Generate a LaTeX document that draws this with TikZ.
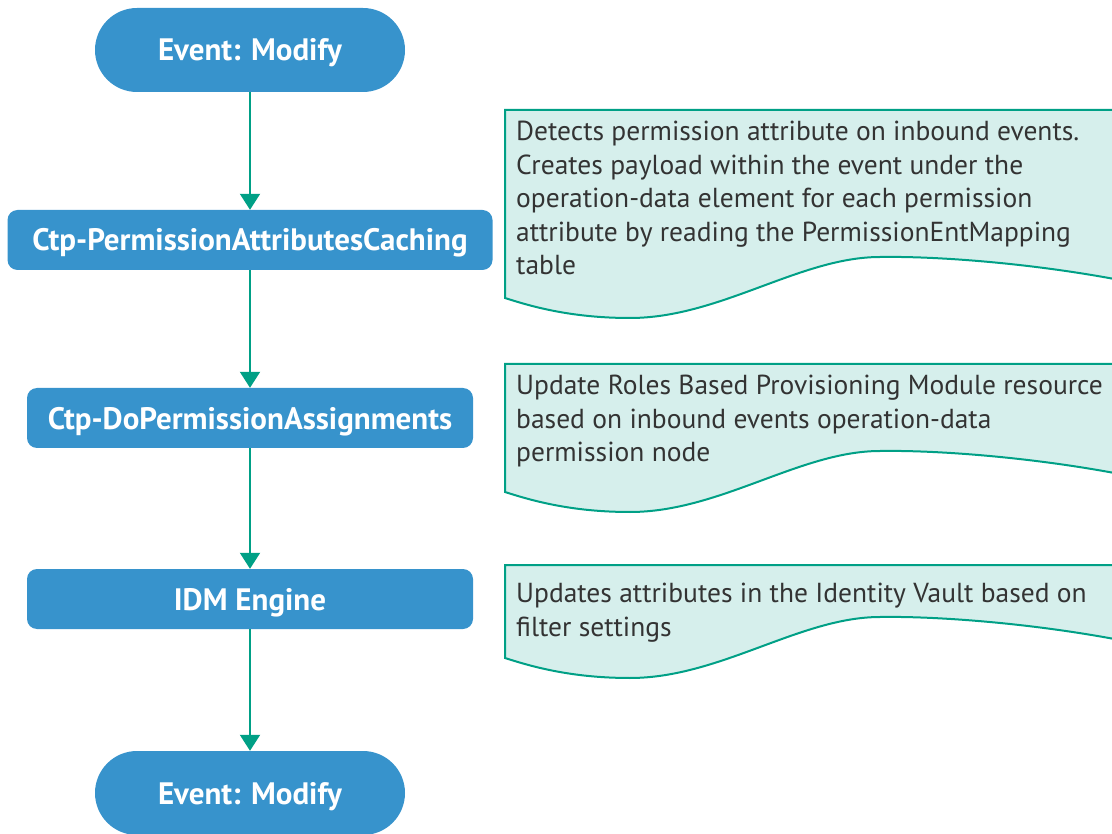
\documentclass[tikz,border=0pt]{standalone}
\usepackage{fontspec}
\setmainfont{PT Sans}
\usepackage{tikz}
\usetikzlibrary{arrows.meta,positioning}
\definecolor{stepblue}{RGB}{55,147,204}
\definecolor{flowgreen}{RGB}{0,160,134}
\definecolor{notemint}{RGB}{214,239,236}
\definecolor{notegray}{RGB}{51,51,51}

\begin{document}
\begin{tikzpicture}[x=1pt, y=-1pt,
    terminal/.style={rectangle, rounded corners=42pt, fill=stepblue, text=white,
      minimum width=310pt, minimum height=84pt, text height=22pt, text depth=0pt,
      font=\bfseries\fontsize{31}{36}\selectfont},
    process/.style={rectangle, rounded corners=10pt, fill=stepblue, text=white,
      minimum height=60pt, text height=22pt, text depth=0pt,
      font=\bfseries\fontsize{31}{36}\selectfont},
    flow/.style={flowgreen, line width=2pt, -{Triangle[width=20pt, length=16pt]}},
    notebox/.style={draw=flowgreen, fill=notemint, line width=2pt},
    notetext/.style={anchor=north west, inner sep=0pt, text=notegray, align=left,
      font=\fontsize{27.5}{33.5}\selectfont}]
    \useasboundingbox (0,0) rectangle (1112,834);

    % steps
    \node[terminal] (start) at (250,50) {Event: Modify};
    \node[process, minimum width=485pt] (cache) at (250,240) {Ctp-PermissionAttributesCaching};
    \node[process, minimum width=446pt] (assign) at (250,418) {Ctp-DoPermissionAssignments};
    \node[process, minimum width=446pt] (engine) at (250,599) {IDM Engine};
    \node[terminal] (stop) at (250,793) {Event: Modify};

    \draw[flow] (start) -- (cache);
    \draw[flow] (cache) -- (assign);
    \draw[flow] (assign) -- (engine);
    \draw[flow] (engine) -- (stop);

    % notes with wavy bottom
    \foreach \t/\b in {110/298, 364/492, 565/658}{
      \draw[notebox] (505,\b) -- (505,\t) -- (1130,\t) -- (1130,\b-16)
        .. controls (1040,\b-34) and (940,\b-42) .. (880,\b-41)
        .. controls (800,\b-41) and (720,\b+20) .. (630,\b+20)
        .. controls (570,\b+20) and (530,\b+8) .. (505,\b) -- cycle;
    }
    \node[notetext] (cachenote) at (516,121) {Detects permission attribute on inbound events.\\
      Creates payload within the event under the\\
      operation-data element for each permission\\
      attribute by reading the PermissionEntMapping\\
      table};
    \node[notetext] (assignnote) at (516,375) {Update Roles Based Provisioning Module resource\\
      based on inbound events operation-data\\
      permission node};
    \node[notetext] (enginenote) at (516,583) {Updates attributes in the Identity Vault based on\\
      filter settings};
\end{tikzpicture}
\end{document}
